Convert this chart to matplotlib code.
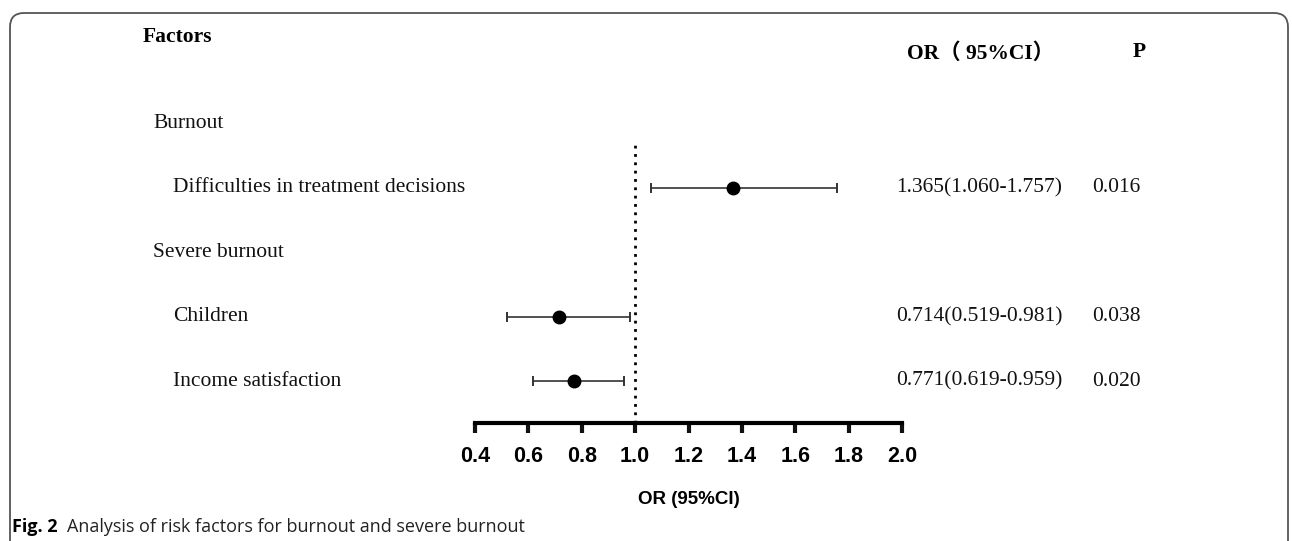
import numpy as np
import matplotlib.pyplot as plt
from matplotlib.patches import FancyBboxPatch
from matplotlib.transforms import blended_transform_factory

# rows of the forest plot (group rows have no estimate)
factors = ['Burnout', 'Difficulties in treatment decisions', 'Severe burnout',
           'Children', 'Income satisfaction']
is_group = [True, False, True, False, False]
or_vals = [np.nan, 1.365, np.nan, 0.714, 0.771]
ci_low = [np.nan, 1.060, np.nan, 0.519, 0.619]
ci_high = [np.nan, 1.757, np.nan, 0.981, 0.959]
p_vals = ['', '0.016', '', '0.038', '0.020']
xticks = [0.4, 0.6, 0.8, 1.0, 1.2, 1.4, 1.6, 1.8, 2.0]

W, H = 1292, 541
fig = plt.figure(figsize=(W / 100, H / 100), dpi=100)
fig.patch.set_facecolor('white')

# axes placed so that 0.4..2.0 spans the drawn axis
ax = fig.add_axes([475 / W, (H - 423) / H, (902 - 475) / W, (423 - 145) / H])
ax.set_xlim(0.4, 2.0)
ax.set_ylim(4.65, 0.34)
for s in ['left', 'top', 'right']:
    ax.spines[s].set_visible(False)
ax.spines['bottom'].set_linewidth(3)
ax.spines['bottom'].set_capstyle('projecting')
ax.set_yticks([])
ax.set_xticks(xticks)
ax.set_xticklabels(['%.1f' % t for t in xticks], fontfamily='Liberation Sans',
                   fontweight='bold', fontsize=15.5)
ax.tick_params(axis='x', direction='out', length=7.5, width=3, pad=9,
               color='#111111')
ax.set_xlabel('OR (95%CI)', fontfamily='Liberation Sans', fontweight='bold',
              fontsize=13.5, labelpad=17)

ax.axvline(1.0, color='black', linestyle=(0, (1, 2)), linewidth=2)

y = np.arange(len(factors))
or_arr = np.array(or_vals)
err = np.array([or_arr - np.array(ci_low), np.array(ci_high) - or_arr])
ax.errorbar(or_arr, y, xerr=err, fmt='o', color='black', ecolor='#333333',
            elinewidth=1.2, capsize=3.8, capthick=1.4, markersize=9, clip_on=False)

# text columns: x in figure fraction, y in row units
tr = blended_transform_factory(fig.transFigure, ax.transData)
serif = 'Liberation Serif'
fs = 15.5
for i, name in enumerate(factors):
    x0 = 153 if is_group[i] else 173
    ax.text(x0 / W, i, name, transform=tr, fontfamily=serif, fontsize=fs,
            va='center', ha='left', color='#111111')
    if not is_group[i]:
        ax.text(896 / W, i, '%.3f(%.3f-%.3f)' % (or_vals[i], ci_low[i], ci_high[i]),
                transform=tr, fontfamily=serif, fontsize=fs, va='center',
                ha='left', color='#111111')
        ax.text(1092 / W, i, p_vals[i], transform=tr, fontfamily=serif,
                fontsize=fs, va='center', ha='left', color='#111111')

ax.text(143 / W, -1.33, 'Factors', transform=tr, fontfamily=serif, fontsize=15.5,
        fontweight='bold', va='center', ha='left')
ax.text(907 / W, -1.08, 'OR\uff08 95%CI\uff09', transform=tr,
        fontfamily=[serif, 'Noto Sans CJK SC'], fontsize=15.5, fontweight='bold',
        va='center', ha='left')
ax.text(1133 / W, -1.10, 'P', transform=tr, fontfamily=serif, fontsize=15.5,
        fontweight='bold', va='center', ha='left')

# caption
fig.text(12 / W, 1 - 527 / H, 'Fig. 2', fontfamily='Open Sans', fontweight='bold',
         fontsize=13, va='center', ha='left')
fig.text(67 / W, 1 - 527 / H, 'Analysis of risk factors for burnout and severe burnout',
         fontfamily='Open Sans', fontsize=13, va='center', ha='left', color='#222222')

# rounded frame, open at the bottom
frame = FancyBboxPatch((0.10, -0.6), 12.78, (H - 13) / 100 + 0.6,
                       boxstyle='round,pad=0,rounding_size=0.14',
                       transform=fig.dpi_scale_trans, fill=False,
                       edgecolor='#555555', linewidth=1.3)
fig.patches.append(frame)

fig.savefig('out.png', dpi=100)
